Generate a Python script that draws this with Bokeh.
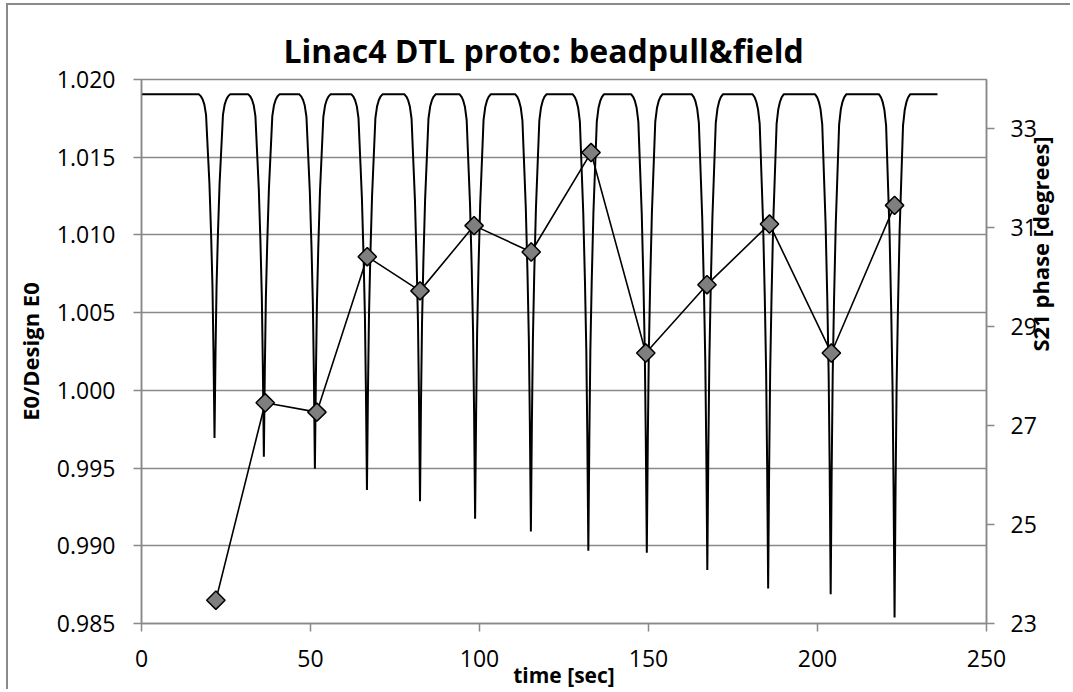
import math
from bokeh.plotting import figure
from bokeh.models import Range1d, LinearAxis, FixedTicker, NumeralTickFormatter, ColumnDataSource
from bokeh.embed import file_html
from bokeh.resources import INLINE

# ---------------- data ----------------
x_ticks = [0, 50, 100, 150, 200, 250]
left_ticks = [0.985, 0.990, 0.995, 1.000, 1.005, 1.010, 1.015, 1.020]
right_ticks = [23, 25, 27, 29, 31, 33]

# S21 phase bead-pull trace (right axis): flat baseline with one dip per cell
phase_baseline = 33.7
trace_start = 0.0
trace_end = 235.5
dip_time = [21.6, 36.2, 51.3, 66.7, 82.4, 98.7, 115.2, 132.2, 149.5, 167.4, 185.4, 203.9, 222.8]
dip_min_phase = [26.75, 26.37, 26.13, 25.70, 25.47, 25.12, 24.86, 24.47, 24.43, 24.08, 23.71, 23.59, 23.12]
# shape of one dip: time offset [s] and fraction of the dip depth
profile_offset = [-4.6, -4.0, -3.5, -3.0, -2.5, -1.9, -1.5, -1.0, -0.6, -0.3, 0.0,
                  0.3, 0.6, 1.0, 1.5, 1.9, 2.5, 3.0, 3.5, 4.0, 4.6]
profile_fraction = [0.0, 0.006, 0.015, 0.03, 0.06, 0.18, 0.26, 0.41, 0.56, 0.75, 1.0,
                    0.75, 0.56, 0.41, 0.26, 0.18, 0.06, 0.03, 0.015, 0.006, 0.0]

# E0 / design E0 per cell (left axis)
field_time = [22.0, 36.6, 51.9, 66.8, 82.4, 98.4, 115.3, 133.0, 149.2, 167.3, 185.8, 204.1, 222.8]
field_ratio = [0.9865, 0.9992, 0.9986, 1.0086, 1.0064, 1.0106, 1.0089, 1.0153, 1.0024, 1.0068, 1.0107, 1.0024, 1.0119]

x_title = "time [sec]"
y_title = "E0/Design E0"
y2_title = "S21 phase [degrees]"
chart_title = "Linac4 DTL proto: beadpull&field"

# ---------------- build table for the trace ----------------
trace_t = [trace_start]
trace_v = [phase_baseline]
for c, m in zip(dip_time, dip_min_phase):
    for off, fr in zip(profile_offset, profile_fraction):
        trace_t.append(c + off)
        trace_v.append(phase_baseline - fr * (phase_baseline - m))
trace_t.append(trace_end)
trace_v.append(phase_baseline)

trace_src = ColumnDataSource(data=dict(t=trace_t, v=trace_v))
field_src = ColumnDataSource(data=dict(t=field_time, v=field_ratio))

FONT = "Open Sans"
GRAY = "#898989"

p = figure(width=1064, height=686, output_backend="svg", toolbar_location=None,
           x_range=Range1d(0, 250), y_range=Range1d(0.985, 1.020),
           min_border_left=133, min_border_right=85, min_border_top=74, min_border_bottom=68)
p.styles = {"border-left": "2px solid #8a8a8a", "border-top": "2px solid #8a8a8a",
            "margin-left": "6px", "margin-top": "3px"}
p.extra_y_ranges = {"phase": Range1d(23, 34)}
p.background_fill_color = "white"
p.border_fill_color = "white"
p.outline_line_color = GRAY
p.outline_line_width = 1.5

p.title.text = chart_title
p.title.text_font = FONT
p.title.text_font_size = "32px"
p.title.text_font_style = "bold"
p.title.text_color = "black"
p.title.align = "left"
p.title.offset = 142
p.title.standoff = 16

def style_axis(ax, label_standoff, axis_label_standoff, label_size="22px"):
    ax.axis_line_color = GRAY
    ax.axis_line_width = 1.5
    ax.major_tick_line_color = GRAY
    ax.major_tick_line_width = 1.5
    ax.major_tick_out = 8
    ax.major_tick_in = 0
    ax.minor_tick_line_color = None
    ax.major_label_text_font = FONT
    ax.major_label_text_font_size = "23px"
    ax.major_label_text_color = "black"
    ax.major_label_standoff = label_standoff
    ax.axis_label_text_font = FONT
    ax.axis_label_text_font_size = label_size
    ax.axis_label_text_font_style = "bold"
    ax.axis_label_text_color = "black"
    ax.axis_label_standoff = axis_label_standoff

xa = p.xaxis[0]
xa.ticker = FixedTicker(ticks=x_ticks)
xa.axis_label = x_title
style_axis(xa, 18, -9, "21px")

ya = p.yaxis[0]
ya.ticker = FixedTicker(ticks=left_ticks)
ya.formatter = NumeralTickFormatter(format="0.000")
ya.axis_label = y_title
style_axis(ya, 18, 9)

ra = LinearAxis(y_range_name="phase", ticker=FixedTicker(ticks=right_ticks),
                axis_label=y2_title)
style_axis(ra, 16, 0)
try:
    ra.axis_label_orientation = math.pi / 2
except Exception:
    pass
p.add_layout(ra, "right")

p.xgrid.visible = False
p.ygrid.ticker = FixedTicker(ticks=left_ticks)
p.ygrid.grid_line_color = GRAY
p.ygrid.grid_line_width = 1.5

p.line("t", "v", source=trace_src, y_range_name="phase", line_color="black", line_width=2)
p.line("t", "v", source=field_src, line_color="black", line_width=1.6)
p.scatter("t", "v", source=field_src, marker="square", angle=math.pi / 4, size=13,
          fill_color="#7f7f7f", line_color="black", line_width=1.5)

open("out.html", "w").write(file_html(p, INLINE))
